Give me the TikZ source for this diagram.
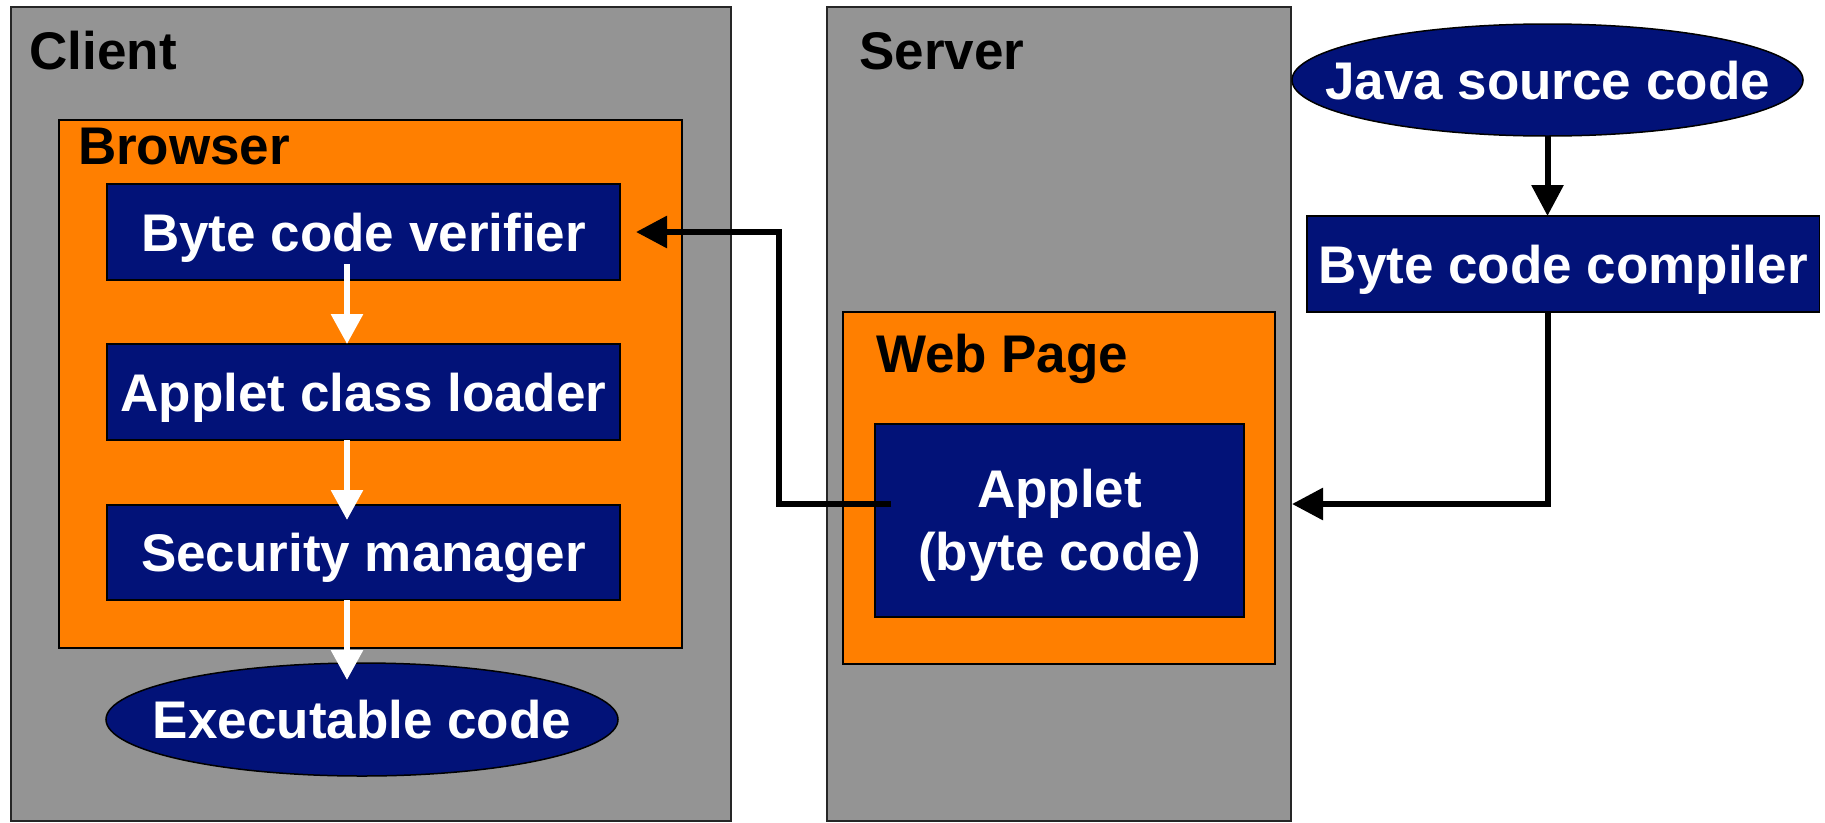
\documentclass[tikz,border=0pt]{standalone}
\usepackage{fontspec}
\setmainfont{Liberation Sans}
\usetikzlibrary{arrows.meta,shapes.geometric}
\definecolor{panelgray}{RGB}{148,148,148}
\definecolor{boxorange}{RGB}{255,127,0}
\definecolor{navy}{RGB}{2,18,120}

\begin{document}
\begin{tikzpicture}[x=1pt,y=-1pt,
  every node/.style={font=\fontsize{53pt}{63pt}\selectfont\bfseries, inner sep=0pt, outer sep=0pt},
  panel/.style={rectangle, draw=black!85, line width=1.5pt, fill=panelgray},
  frame/.style={rectangle, draw=black, line width=1.5pt, fill=boxorange},
  stage/.style={rectangle, draw=black, line width=1.5pt, fill=navy, text=white,
                text height=38pt, text depth=0pt},
  blob/.style={ellipse, draw=black, line width=1.5pt, fill=navy},
  caption/.style={text=white, text height=38pt, text depth=0pt},
  title/.style={anchor=base west, text=black},
  flow/.style={draw=black, line width=6pt, -{Triangle[length=31pt,width=31pt]}},
  pass/.style={draw=white, line width=6pt, -{Triangle[length=30pt,width=31pt]}},
]
\useasboundingbox (0,0) rectangle (1825,822);
\clip (0,0) rectangle (1825,822);

% two machines
\node[panel, minimum width=720pt, minimum height=814pt] (client) at (371,414) {};
\node[panel, minimum width=464pt, minimum height=814pt] (server) at (1059,414) {};
\node[title] (clientlbl) at (29.5,69) {Client};
\node[title] (serverlbl) at (859.5,69) {Server};

% browser with its pipeline
\node[frame, minimum width=623pt, minimum height=528pt] (browser) at (370.5,384) {};
\node[title] (browserlbl) at (78,164) {Browser};
\node[stage, minimum width=513pt, minimum height=96pt] (verifier) at (363.5,232) {Byte code verifier};
\node[stage, minimum width=513pt, minimum height=96pt] (loader) at (363.5,392) {Applet class loader};
\node[stage, minimum width=513pt, minimum height=95pt] (security) at (363.5,552.5) {Security manager};
\node[blob, minimum width=512pt, minimum height=113pt] (exec) at (362,719.5) {};
\node[caption] (execlbl) at (exec) {Executable code};

% web page on the server
\node[frame, minimum width=432pt, minimum height=352pt] (webpage) at (1059,488) {};
\node[title] (webpagelbl) at (876,372) {Web Page};
\node[rectangle, draw=black, line width=1.5pt, fill=navy, minimum width=369pt, minimum height=193pt] (applet) at (1059.5,520.5) {};
\node[anchor=base, text=white, align=center] (appletlbl) at (1059.5,570) {Applet\\(byte code)};

% compilation outside the server
\node[blob, minimum width=511pt, minimum height=112pt] (java) at (1547.5,80) {};
\node[caption] (javalbl) at (java) {Java source code};
\node[stage, minimum width=512.5pt, minimum height=96pt] (compiler) at (1563.25,264) {Byte code compiler};

% connectors
\coordinate (srvin) at (1292,504);
\coordinate (appletout) at (891,504);
\draw[flow] (java.south) -- (java.south |- compiler.north);
\draw[flow] (java.south |- compiler.south) |- (srvin);
\draw[flow] (appletout) -- ++(-112,0) |- ([xshift=16pt]verifier.east);

\draw[pass] ([xshift=-16.5pt,yshift=16pt]verifier.south) -- ([xshift=-16.5pt]loader.north);
\draw[pass] ([xshift=-16.5pt]loader.south) -- ([xshift=-16.5pt,yshift=-15pt]security.north);
\draw[pass] ([xshift=-16.5pt]security.south) -- ([xshift=-15pt,yshift=-17pt]exec.north);
\end{tikzpicture}
\end{document}
